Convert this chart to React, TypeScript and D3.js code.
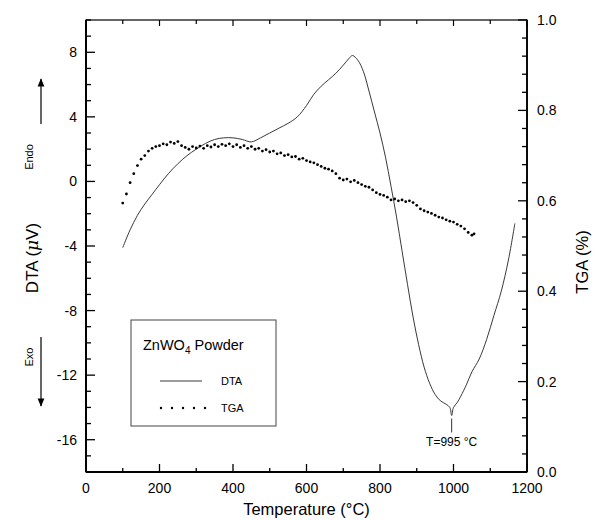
import * as d3 from "d3";
import React, { useRef, useEffect } from "react";

// DTA trace (temperature in °C, signal in µV)
const dtaTemp = [100, 120, 140, 160, 180, 200, 225, 250, 275, 300, 325, 350, 375, 400, 425, 450, 475, 500, 525, 550, 575, 600, 620, 640, 660, 680, 700, 715, 725, 740, 755, 770, 785, 800, 815, 830, 845, 860, 875, 890, 905, 920, 935, 950, 965, 980, 990, 995, 1000, 1010, 1020, 1035, 1050, 1070, 1090, 1110, 1130, 1150, 1167];
const dtaValue = [-4.1, -3.0, -2.1, -1.4, -0.8, -0.2, 0.5, 1.1, 1.6, 2.0, 2.35, 2.6, 2.7, 2.7, 2.6, 2.45, 2.7, 3.0, 3.3, 3.6, 4.0, 4.7, 5.4, 5.9, 6.3, 6.7, 7.2, 7.6, 7.8, 7.5, 6.8, 5.6, 4.3, 3.0, 1.5, -0.3, -2.2, -4.3, -6.4, -8.4, -10.1, -11.5, -12.5, -13.2, -13.6, -13.8, -14.0, -14.5, -14.0, -13.7, -13.3, -12.6, -11.8, -11.0, -9.8, -8.3, -6.8, -4.8, -2.6];

// TGA readings (temperature in °C, weight %)
const tgaTemp = [100, 110, 120, 130, 140, 150, 160, 170, 180, 190, 200, 210, 220, 230, 240, 250, 260, 270, 280, 290, 300, 310, 320, 330, 340, 350, 360, 370, 380, 390, 400, 410, 420, 430, 440, 450, 460, 470, 480, 490, 500, 510, 520, 530, 540, 550, 560, 570, 580, 590, 600, 610, 620, 630, 640, 650, 660, 670, 680, 690, 700, 710, 720, 730, 740, 750, 760, 770, 780, 790, 800, 810, 820, 830, 840, 850, 860, 870, 880, 890, 900, 910, 920, 930, 940, 950, 960, 970, 980, 990, 1000, 1010, 1020, 1030, 1040, 1050, 1056];
const tgaValue = [0.595, 0.615, 0.64, 0.66, 0.678, 0.692, 0.70, 0.71, 0.716, 0.72, 0.722, 0.726, 0.724, 0.73, 0.727, 0.731, 0.722, 0.718, 0.714, 0.72, 0.717, 0.721, 0.716, 0.722, 0.719, 0.724, 0.72, 0.725, 0.722, 0.726, 0.72, 0.724, 0.718, 0.722, 0.716, 0.72, 0.714, 0.716, 0.71, 0.713, 0.708, 0.71, 0.704, 0.706, 0.70, 0.702, 0.697, 0.698, 0.692, 0.694, 0.689, 0.686, 0.684, 0.68, 0.676, 0.672, 0.67, 0.666, 0.66, 0.65, 0.646, 0.648, 0.642, 0.645, 0.64, 0.636, 0.632, 0.63, 0.624, 0.618, 0.614, 0.612, 0.608, 0.602, 0.604, 0.60, 0.602, 0.598, 0.60, 0.596, 0.59, 0.582, 0.578, 0.575, 0.572, 0.568, 0.564, 0.562, 0.558, 0.555, 0.553, 0.548, 0.544, 0.538, 0.53, 0.524, 0.527];

const xTicks = [0, 200, 400, 600, 800, 1000, 1200];
const dtaTicks = [-16, -12, -8, -4, 0, 4, 8];
const tgaTicks = [0.0, 0.2, 0.4, 0.6, 0.8, 1.0];
const peakTemp = 995;
const peakLabel = "T=995 °C";

const W = 607;
const H = 520;
const FONT = "Arial, 'Liberation Sans', sans-serif";

export default function App() {
  const ref = useRef<SVGSVGElement>(null);

  useEffect(() => {
    const svg = d3.select(ref.current);
    svg.selectAll("*").remove();

    const left = 86, right = 527, top = 20, bottom = 472;

    const x = d3.scaleLinear().domain([0, 1200]).range([left, right]);
    const yL = d3.scaleLinear().domain([-18, 10]).range([bottom, top]);
    const yR = d3.scaleLinear().domain([0, 1]).range([bottom, top]);

    const g = svg.append("g");

    // frame
    g.append("rect")
      .attr("x", left).attr("y", top)
      .attr("width", right - left).attr("height", bottom - top)
      .attr("fill", "none").attr("stroke", "#000").attr("stroke-width", 1.2);
    g.append("line").attr("x1", left).attr("x2", left).attr("y1", top).attr("y2", bottom)
      .attr("stroke", "#000").attr("stroke-width", 2);
    g.append("line").attr("x1", right).attr("x2", right).attr("y1", top).attr("y2", bottom)
      .attr("stroke", "#000").attr("stroke-width", 1.8);
    g.append("line").attr("x1", left).attr("x2", right).attr("y1", bottom).attr("y2", bottom)
      .attr("stroke", "#000").attr("stroke-width", 1.8);

    // x ticks (bottom and top, inward)
    d3.range(0, 1201, 100).forEach(v => {
      const major = v % 200 === 0;
      g.append("line").attr("x1", x(v)).attr("x2", x(v))
        .attr("y1", bottom).attr("y2", bottom - (major ? 8 : 4)).attr("stroke", "#000").attr("stroke-width", 1.3);
      g.append("line").attr("x1", x(v)).attr("x2", x(v))
        .attr("y1", top).attr("y2", top + (major ? 6 : 4)).attr("stroke", "#000").attr("stroke-width", 1.2);
    });
    g.selectAll(".xl").data(xTicks).enter().append("text")
      .attr("x", d => x(d)).attr("y", bottom + 21)
      .attr("text-anchor", "middle").attr("font-size", 14).attr("font-family", FONT)
      .text(d => d);

    // left axis ticks
    d3.range(-18, 11, 1).forEach(v => {
      const major = v % 4 === 0;
      g.append("line").attr("x1", left).attr("x2", left + (major ? 9 : 5))
        .attr("y1", yL(v)).attr("y2", yL(v)).attr("stroke", "#000").attr("stroke-width", 1.3);
    });
    g.selectAll(".yl").data(dtaTicks).enter().append("text")
      .attr("x", left - 9).attr("y", d => yL(d) + 5)
      .attr("text-anchor", "end").attr("font-size", 14).attr("font-family", FONT)
      .text(d => d);

    // right axis ticks
    d3.range(0, 26, 1).forEach(i => {
      const v = i * 0.04;
      const major = i % 5 === 0;
      g.append("line").attr("x1", right).attr("x2", right - (major ? 9 : 5))
        .attr("y1", yR(v)).attr("y2", yR(v)).attr("stroke", "#000").attr("stroke-width", 1.3);
    });
    g.selectAll(".yr").data(tgaTicks).enter().append("text")
      .attr("x", right + 10).attr("y", d => yR(d) + 5)
      .attr("text-anchor", "start").attr("font-size", 14).attr("font-family", FONT)
      .text(d => d.toFixed(1));

    // axis titles
    g.append("text").attr("x", (left + right) / 2).attr("y", 515)
      .attr("text-anchor", "middle").attr("font-size", 16.5).attr("font-family", FONT)
      .text("Temperature (°C)");

    const dtaTitle = g.append("text")
      .attr("transform", "translate(38,258) rotate(-90)")
      .attr("text-anchor", "middle").attr("font-size", 17).attr("font-family", FONT);
    dtaTitle.append("tspan").text("DTA (");
    dtaTitle.append("tspan").attr("font-style", "italic").attr("font-family", "'DejaVu Serif', serif").text("μ");
    dtaTitle.append("tspan").text("V)");

    g.append("text")
      .attr("transform", "translate(588,262) rotate(-90)")
      .attr("text-anchor", "middle").attr("font-size", 16.5).attr("font-family", FONT)
      .text("TGA (%)");

    // Endo / Exo markers
    g.append("text").attr("transform", "translate(33,157) rotate(-90)")
      .attr("text-anchor", "middle").attr("font-size", 11).attr("font-family", FONT).text("Endo");
    g.append("text").attr("transform", "translate(33,357) rotate(-90)")
      .attr("text-anchor", "middle").attr("font-size", 11).attr("font-family", FONT).text("Exo");
    const defs = svg.append("defs");
    defs.append("marker").attr("id", "ah").attr("viewBox", "0 0 10 10")
      .attr("refX", 9).attr("refY", 5).attr("markerWidth", 7).attr("markerHeight", 7)
      .attr("orient", "auto")
      .append("path").attr("d", "M0,1 L10,5 L0,9 Z").attr("fill", "#000");
    g.append("line").attr("x1", 41).attr("x2", 41).attr("y1", 124).attr("y2", 79)
      .attr("stroke", "#000").attr("stroke-width", 1.2).attr("marker-end", "url(#ah)");
    g.append("line").attr("x1", 41).attr("x2", 41).attr("y1", 337).attr("y2", 406)
      .attr("stroke", "#000").attr("stroke-width", 1.2).attr("marker-end", "url(#ah)");

    // DTA curve
    const dta = dtaTemp.map((t, i) => [t, dtaValue[i]] as [number, number]);
    const line = d3.line<[number, number]>()
      .x(d => x(d[0])).y(d => yL(d[1]))
      .curve(d3.curveCatmullRom.alpha(0.5));
    g.append("path").datum(dta).attr("d", line)
      .attr("fill", "none").attr("stroke", "#222").attr("stroke-width", 0.9);

    // TGA dots
    g.selectAll(".tga").data(tgaTemp).enter().append("circle")
      .attr("cx", d => x(d)).attr("cy", (d, i) => yR(tgaValue[i]))
      .attr("r", 1.4).attr("fill", "#000");

    // peak annotation
    const peakY = yL(-14.5);
    g.append("line").attr("x1", x(peakTemp)).attr("x2", x(peakTemp))
      .attr("y1", peakY + 3).attr("y2", peakY + 17)
      .attr("stroke", "#000").attr("stroke-width", 0.8);
    g.append("text").attr("x", x(peakTemp)).attr("y", peakY + 30)
      .attr("text-anchor", "middle").attr("font-size", 12).attr("font-family", FONT)
      .text(peakLabel);

    // legend
    const lx = 131, ly = 320;
    g.append("rect").attr("x", lx).attr("y", ly).attr("width", 145).attr("height", 106)
      .attr("fill", "#fff").attr("stroke", "#444").attr("stroke-width", 1);
    const lt = g.append("text").attr("x", lx + 12).attr("y", ly + 30)
      .attr("font-size", 14.5).attr("font-family", FONT);
    lt.append("tspan").text("ZnWO");
    lt.append("tspan").attr("font-size", 10).attr("dy", 4).text("4");
    lt.append("tspan").attr("dy", -4).text(" Powder");
    g.append("line").attr("x1", lx + 29).attr("x2", lx + 71)
      .attr("y1", ly + 61).attr("y2", ly + 61).attr("stroke", "#222").attr("stroke-width", 0.9);
    g.append("text").attr("x", lx + 90).attr("y", ly + 65)
      .attr("font-size", 11).attr("font-family", FONT).text("DTA");
    g.selectAll(".ld").data(d3.range(5)).enter().append("circle")
      .attr("cx", d => lx + 30 + d * 11).attr("cy", ly + 88)
      .attr("r", 1.2).attr("fill", "#000");
    g.append("text").attr("x", lx + 90).attr("y", ly + 92)
      .attr("font-size", 11).attr("font-family", FONT).text("TGA");
  }, []);

  return (
    <svg ref={ref} width={W} height={H}
      style={{ position: "absolute", left: 0, top: 0, background: "#fff" }} />
  );
}
